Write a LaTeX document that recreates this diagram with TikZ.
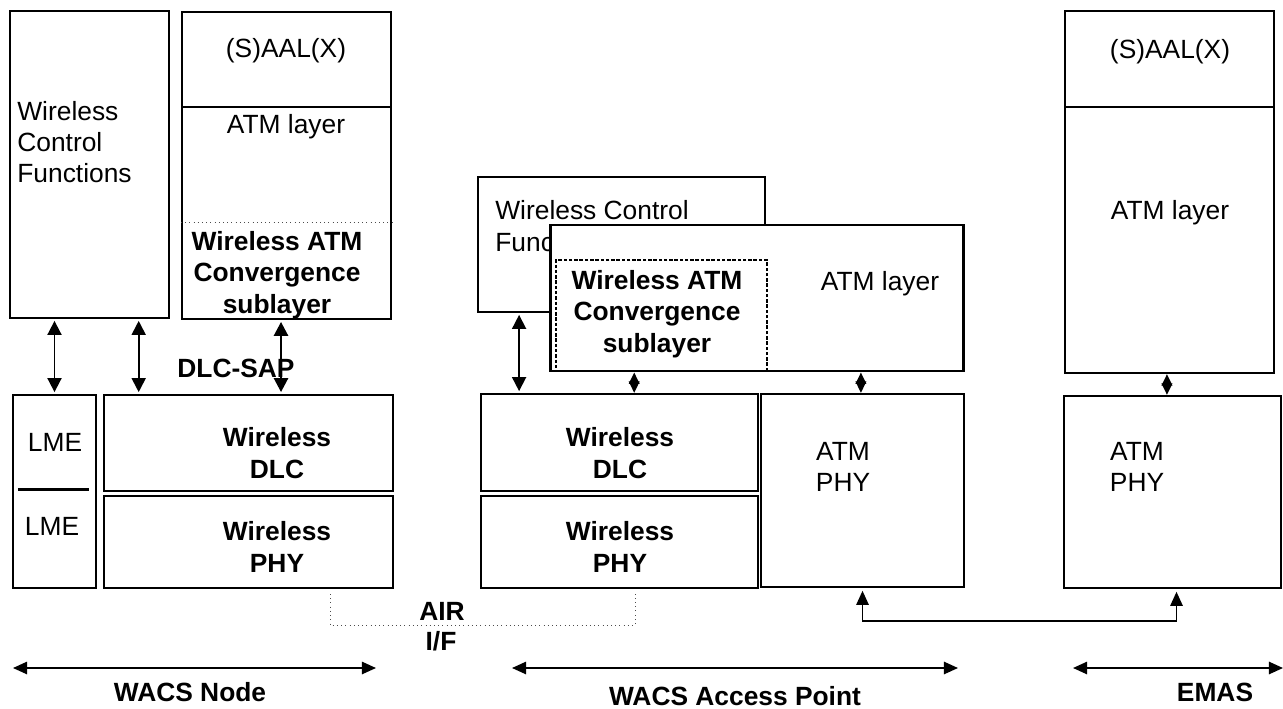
\documentclass[tikz,border=0pt]{standalone}
\usepackage{fontspec}
\setmainfont{Liberation Sans}
\usepackage{tikz}
\usetikzlibrary{arrows.meta,fit,calc}

\begin{document}
\begin{tikzpicture}[x=0.02cm, y=-0.02cm,
	box/.style={draw=black, line width=1.3pt, fill=white, inner sep=0pt},
	txt/.style={black, inner sep=0pt, align=center, font=\fontsize{15}{17.8}\selectfont},
	btxt/.style={txt, font=\fontsize{15}{17.8}\selectfont\bfseries},
	link/.style={draw=black, line width=1pt, shorten <=1pt, shorten >=1pt, {Triangle[width=8pt,length=8pt]}-{Triangle[width=8pt,length=8pt]}},
	sap/.style={draw=black, line width=1pt, {Triangle[width=6pt,length=6.5pt]}-{Triangle[width=6pt,length=6.5pt]}},
	span/.style={draw=black, line width=1pt, {Triangle[width=7pt,length=8pt]}-{Triangle[width=7pt,length=8pt]}}]
	\useasboundingbox (0,0) rectangle (1283,709);
	% WACS node
	\node[box, fit={(10,11) (169,318)}] (wcf) {};
	\node[txt, align=left, anchor=west] at (17,142) {Wireless\\Control\\Functions};
	\node[box, fit={(182,12) (391,107)}] (saal) {};
	\node[box, fit={(182,107) (391,319)}] (atm) {};
	\draw[draw=black!70, thin, dotted] (atm.west |- 0,222) -- (atm.east |- 0,222);
	\node[txt] at (286,51) {(S)AAL(X)};
	\node[txt] at (286,127) {ATM layer};
	\node[btxt] at (277,275) {Wireless ATM\\Convergence\\sublayer};
	\node[box, fit={(13,395) (96,588)}] (lme) {};
	\draw[line width=1.5pt] ($(lme.west)+(6,-2)$) -- ($(lme.east)+(-8,-2)$);
	\node[txt] at (55,442) {LME};
	\node[txt] at (52,526) {LME};
	\node[box, fit={(104,395) (393,491)}] (ldlc) {};
	\node[box, fit={(104,496) (393,588)}] (lphy) {};
	\node[btxt] at (277,453) {Wireless\\DLC};
	\node[btxt] at (277,547) {Wireless\\PHY};
	\draw[link] (lme.north |- wcf.south) -- (lme.north);
	\draw[link] ($(wcf.south west)!0.805!(wcf.south east)$) coordinate (p1) -- (p1 |- ldlc.north);
	\draw[link, line width=1.5pt] ($(atm.south west)!0.474!(atm.south east)$) coordinate (p2) -- (p2 |- ldlc.north);
	\node[btxt] at (236,368) {DLC-SAP};
	% air interface
	\coordinate (airL) at (330,594);
	\coordinate (airR) at (635,594);
	\draw[draw=black!70, thin, dotted] (airL) -- ++(0,31) -| (airR);
	\node[btxt] at (442,611) {AIR};
	\node[btxt] at (441,641) {I/F};
	% WACS access point
	\node[box, fit={(478,177) (765,312)}] (mwcf) {};
	\node[txt, align=left, anchor=west] at (495,226) {Wireless Control\\Functions};
	\node[box, line width=1.7pt, fit={(550,225) (963,371)}] (catm) {};
	\node[draw=black, line width=1.1pt, dash pattern=on 2pt off 1pt, inner sep=0pt, fit={(556,260) (767,371)}] (wcs) {};
	\node[btxt] at (657,314) {Wireless ATM\\Convergence\\sublayer};
	\node[txt] at (880,284) {ATM layer};
	\node[box, fit={(481,394) (758,491)}] (mdlc) {};
	\node[box, fit={(481,496) (758,588)}] (mphy) {};
	\node[box, fit={(761,394) (964,587)}] (aphy) {};
	\node[btxt] at (620,453) {Wireless\\DLC};
	\node[btxt] at (620,547) {Wireless\\PHY};
	\node[txt] at (843,467) {ATM\\PHY};
	\draw[link] ($(mwcf.south west)!0.146!(mwcf.south east)$) coordinate (p3) -- (p3 |- mdlc.north);
	\draw[sap] ($(catm.south west)!0.206!(catm.south east)$) coordinate (p4) -- (p4 |- mdlc.north);
	\draw[sap] ($(catm.south west)!0.751!(catm.south east)$) coordinate (p5) -- (p5 |- aphy.north);
	% EMAS
	\node[box, fit={(1065,11) (1274,107)}] (rsaal) {};
	\node[box, fit={(1065,107) (1274,373)}] (ratm) {};
	\node[txt] at (1170,52) {(S)AAL(X)};
	\node[txt] at (1170,213) {ATM layer};
	\node[box, fit={(1064,396) (1281,588)}] (ephy) {};
	\node[txt] at (1137,467) {ATM\\PHY};
	\draw[sap] ($(ratm.south west)!0.488!(ratm.south east)$) coordinate (p6) -- (p6 |- ephy.north);
	\draw[span, shorten <=1.5pt, shorten >=1.5pt] (aphy.south) -- ++(0,33) -| ($(ephy.south)+(4,0)$);
	% spans
	\coordinate (nodeL) at (13,668);
	\coordinate (nodeR) at (376,668);
	\coordinate (apL) at (512,668);
	\coordinate (apR) at (958,668);
	\coordinate (emasL) at (1073,668);
	\coordinate (emasR) at (1283,668);
	\draw[span] (nodeL) -- (nodeR);
	\draw[span] (apL) -- (apR);
	\draw[span] (emasL) -- (emasR);
	\node[btxt] at (190,692) {WACS Node};
	\node[btxt] at (735,696) {WACS Access Point};
	\node[btxt] at (1215,692) {EMAS};
\end{tikzpicture}
\end{document}
